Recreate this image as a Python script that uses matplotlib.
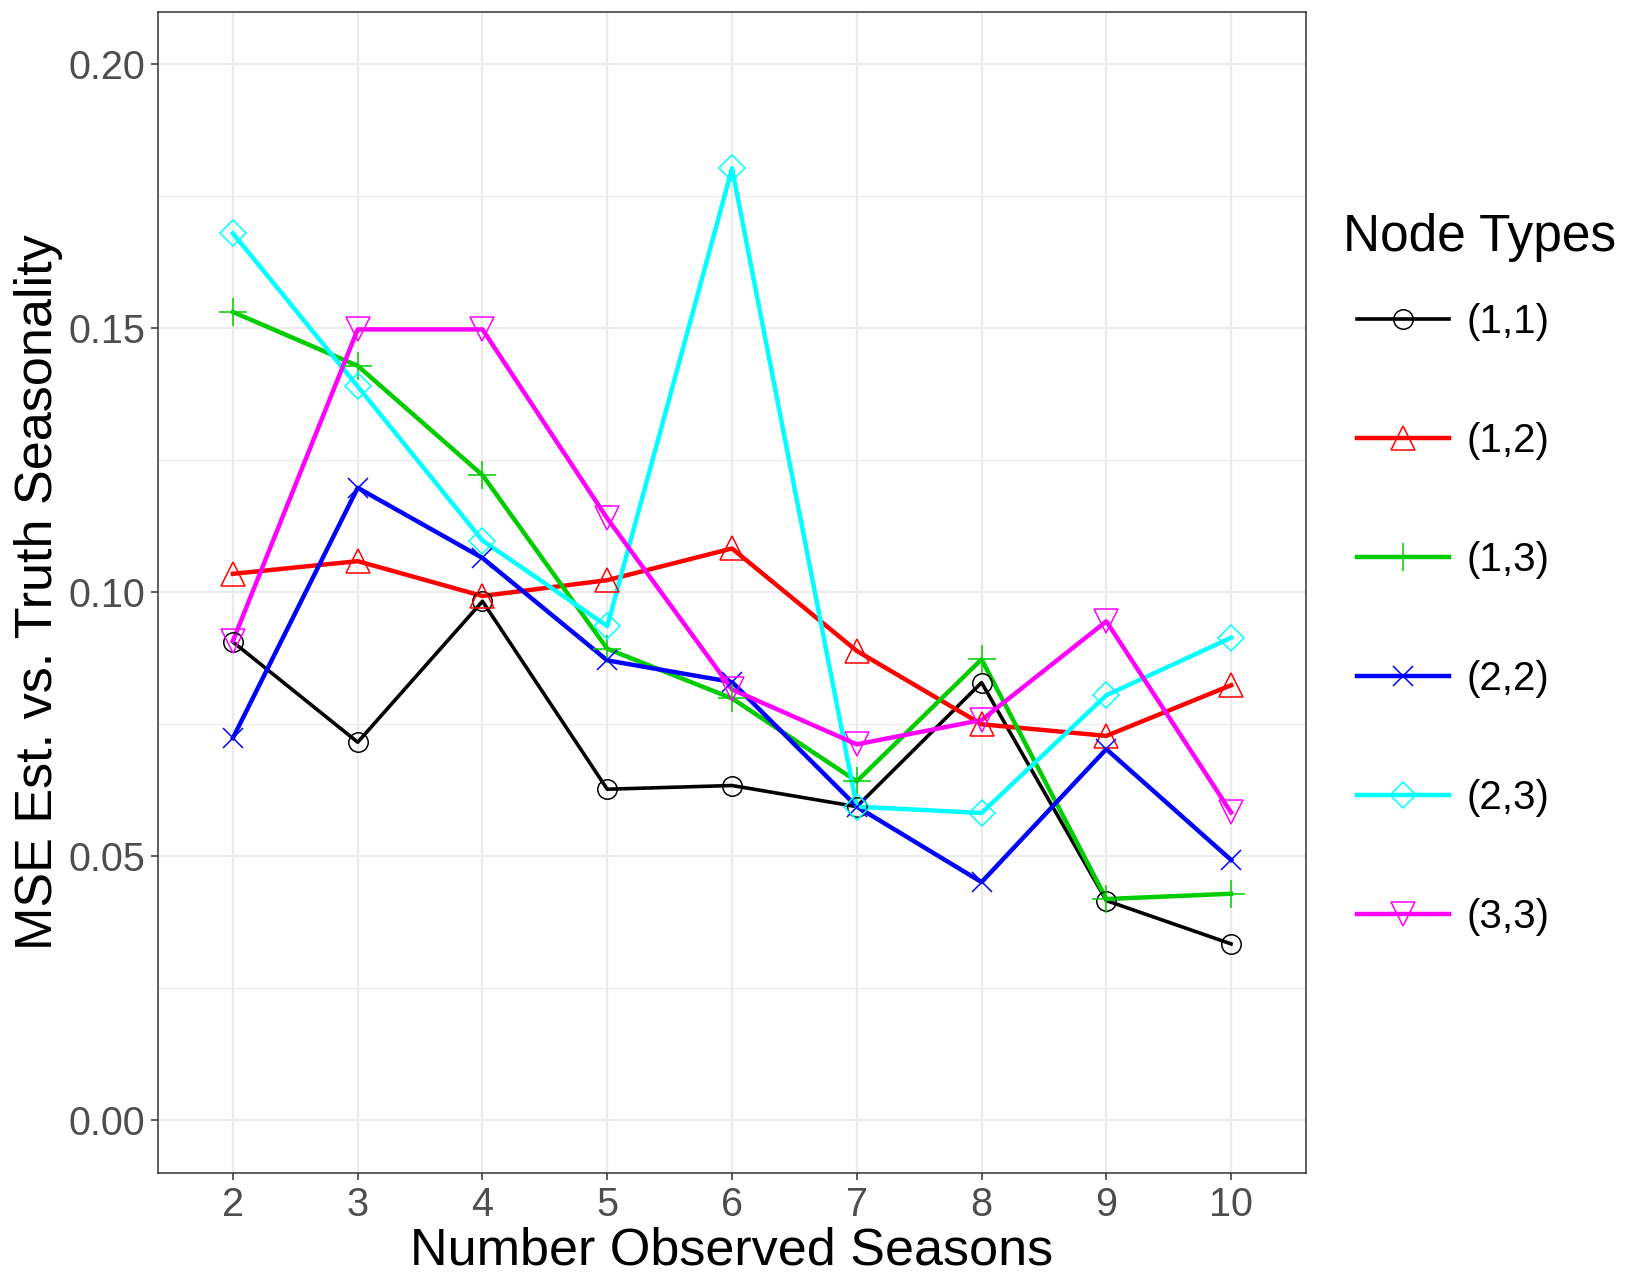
"""
MSE of estimated vs. true seasonality by number of observed seasons,
one line per node type.
"""

import matplotlib
matplotlib.use('Agg')
import matplotlib.pyplot as plt
from matplotlib.lines import Line2D

plt.rcParams['font.family'] = ['Liberation Sans', 'DejaVu Sans']

# Data
seasons = [2, 3, 4, 5, 6, 7, 8, 9, 10]
node_types = ['(1,1)', '(1,2)', '(1,3)', '(2,2)', '(2,3)', '(3,3)']

mse_11 = [0.0906, 0.0716, 0.0983, 0.0627, 0.0634, 0.0594, 0.0829, 0.0416, 0.0334]
mse_12 = [0.1035, 0.1059, 0.0993, 0.1023, 0.1083, 0.0889, 0.0750, 0.0728, 0.0824]
mse_13 = [0.1531, 0.1429, 0.1222, 0.0893, 0.0799, 0.0642, 0.0873, 0.0419, 0.0429]
mse_22 = [0.0724, 0.1198, 0.1065, 0.0871, 0.0830, 0.0594, 0.0451, 0.0703, 0.0493]
mse_23 = [0.1680, 0.1390, 0.1098, 0.0936, 0.1803, 0.0594, 0.0582, 0.0805, 0.0914]
mse_33 = [0.0908, 0.1498, 0.1498, 0.1140, 0.0816, 0.0712, 0.0758, 0.0945, 0.0583]

series = [mse_11, mse_12, mse_13, mse_22, mse_23, mse_33]
colors = ['black', '#FF0000', '#00CD00', '#0000FF', '#00FFFF', '#FF00FF']
markers = ['o', '^', '+', 'x', 'D', 'v']
msizes = [14, 17, 20, 14, 13, 17]
lwidths = [2.6, 3.2, 3.2, 3.2, 3.2, 3.2]

fig = plt.figure(figsize=(16.5, 12.75), dpi=100)
ax = fig.add_axes([0.0958, 0.08, 0.6957, 0.9109])

# lines first, then points on top (ggplot layer order)
for vals, c, lw in zip(series, colors, lwidths):
    ax.plot(seasons, vals, color=c, linewidth=lw, zorder=3)
for vals, c, m, ms in zip(series, colors, markers, msizes):
    ax.plot(seasons, vals, linestyle='none', marker=m, markersize=ms,
            markerfacecolor='none', markeredgecolor=c, markeredgewidth=1.1, zorder=4)

ax.set_xlim(1.4, 10.6)
ax.set_ylim(-0.01, 0.21)
ax.set_xticks(seasons)
ax.set_yticks([0.0, 0.05, 0.10, 0.15, 0.20])
ax.set_yticklabels(['0.00', '0.05', '0.10', '0.15', '0.20'])
ax.set_yticks([0.025, 0.075, 0.125, 0.175], minor=True)

ax.grid(True, which='major', color='#EBEBEB', linewidth=1.6, zorder=0)
ax.grid(True, which='minor', axis='y', color='#EBEBEB', linewidth=0.9, zorder=0)
ax.set_axisbelow(True)
for s in ax.spines.values():
    s.set_color('#333333')
    s.set_linewidth(1.1)

ax.tick_params(axis='both', which='major', labelsize=28.5, labelcolor='#4D4D4D',
               color='#333333', length=5, width=1.1, pad=4)
ax.tick_params(axis='both', which='minor', length=0)

ax.set_xlabel('Number Observed Seasons', fontsize=37.5, labelpad=2)
ax.set_ylabel('MSE Est. vs. Truth Seasonality', fontsize=37.5, labelpad=4)

# legend: title placed on its own so it can sit left of the keys
fig.text(0.814, 0.814, 'Node Types', fontsize=37, ha='left', va='center')
handles = [Line2D([], [], color=c, linewidth=lw, marker=m, markersize=ms,
                  markerfacecolor='none', markeredgecolor=c, markeredgewidth=1.1)
           for c, m, ms, lw in zip(colors, markers, msizes, lwidths)]
leg = fig.legend(handles, node_types, loc='upper left',
                 bbox_to_anchor=(0.8125, 0.775), frameon=False, fontsize=29,
                 handlelength=2.28, handletextpad=0.45,
                 labelspacing=2.01, borderaxespad=0)

fig.savefig('out.png', dpi=100)
